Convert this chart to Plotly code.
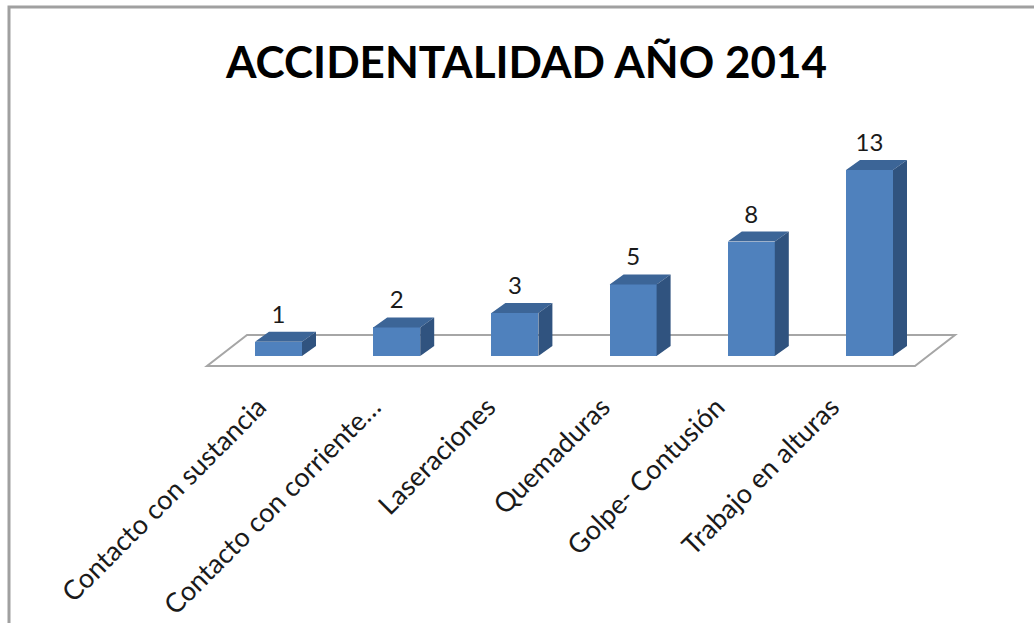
import plotly.graph_objects as go

# ---- data ----
categories = ["Contacto con sustancia", "Contacto con corriente…", "Laseraciones",
              "Quemaduras", "Golpe- Contusión", "Trabajo en alturas"]
values = [1, 2, 3, 5, 8, 13]
title_text = "ACCIDENTALIDAD AÑO 2014"

# ---- style ----
W, H = 1034, 623
FRONT = "#4F81BD"
TOP = "#3C6597"
SIDE = "#30537F"
FONT = "Lato, 'Noto Sans', sans-serif"

# axis scales (pixels per unit) and ranges
px_x = 118.2
px_y = 14.31
x0 = -278.5 / px_x
x1 = x0 + W / px_x
y0 = -(H - 356) / px_y
y1 = y0 + H / px_y

# label axis (slightly tighter spacing, as in the perspective view)
px_x2 = 114.6
x20 = -258.5 / px_x2
x21 = x20 + W / px_x2

bar_w = 47 / px_x
dx = 14 / px_x
dy = 10 / px_y

xs = list(range(len(categories)))

fig = go.Figure()

# front faces
fig.add_trace(go.Bar(x=xs, y=values, base=0, width=bar_w,
                     marker=dict(color=FRONT, line=dict(width=0)),
                     hoverinfo="skip", showlegend=False))

# top & side faces
tx, ty, sx, sy = [], [], [], []
for x, v in zip(xs, values):
    l, r = x - bar_w / 2, x + bar_w / 2
    tx += [l, r, r + dx, l + dx, l, None]
    ty += [v, v, v + dy, v + dy, v, None]
    sx += [r, r + dx, r + dx, r, r, None]
    sy += [0, dy, v + dy, v, 0, None]
fig.add_trace(go.Scatter(x=tx, y=ty, mode="lines", fill="toself", fillcolor=TOP,
                         line=dict(width=0, color=TOP), hoverinfo="skip", showlegend=False))
fig.add_trace(go.Scatter(x=sx, y=sy, mode="lines", fill="toself", fillcolor=SIDE,
                         line=dict(width=0, color=SIDE), hoverinfo="skip", showlegend=False))

# value labels
lab_off = 25 / px_y
fig.add_trace(go.Scatter(x=xs, y=[v + lab_off for v in values], mode="text",
                         text=[str(v) for v in values], textposition="middle center",
                         textfont=dict(family=FONT, size=24, color="#1a1a1a"),
                         hoverinfo="skip", showlegend=False))

# invisible trace carrying the category-label axis
fig.add_trace(go.Scatter(x=xs, y=[0] * len(xs), xaxis="x2", yaxis="y", mode="markers",
                         marker=dict(opacity=0), hoverinfo="skip", showlegend=False))

# floor (parallelogram spanning the categories)
n = len(categories)
fl_l = -71.5 / px_x
fl_r = (n - 1) + 45.5 / px_x
fl_front = -10 / px_y
fdx = 40 / px_x
fdy = 31 / px_y
floor_path = (f"M {fl_l},{fl_front} L {fl_r},{fl_front} L {fl_r + fdx},{fl_front + fdy} "
              f"L {fl_l + fdx},{fl_front + fdy} Z")
fig.add_shape(type="path", path=floor_path, xref="x", yref="y", layer="below",
              line=dict(color="#A6A6A6", width=2), fillcolor="white")

# outer chart frame
fig.add_shape(type="rect", xref="paper", yref="paper",
              x0=9 / W, x1=1.05, y0=-0.05, y1=1 - 7 / H,
              line=dict(color="#A0A0A0", width=3), fillcolor="rgba(0,0,0,0)")

fig.update_layout(
    width=W, height=H,
    margin=dict(l=0, r=0, t=0, b=0),
    paper_bgcolor="white", plot_bgcolor="white",
    title=dict(text=title_text, x=526.5 / W, xanchor="center", y=1 - 63 / H, yanchor="middle",
               font=dict(family=FONT, size=44, color="black", weight="bold")),
    xaxis=dict(range=[x0, x1], showgrid=False, zeroline=False, showline=False,
               showticklabels=False, ticks=""),
    xaxis2=dict(range=[x20, x21], overlaying="x", tickmode="array", tickvals=xs,
                ticktext=categories, tickangle=-45, showgrid=False, zeroline=False,
                showline=False, ticks="", anchor="free", position=1 - 367 / H, side="bottom",
                ticklabelstandoff=18,
                tickfont=dict(family=FONT, size=27, color="#1a1a1a")),
    yaxis=dict(range=[y0, y1], showgrid=False, zeroline=False, showline=False,
               showticklabels=False, ticks=""),
    bargap=0,
)

fig.write_html("out.html", config={"displayModeBar": False},
               post_script="document.body.style.margin='0';document.body.style.overflow='hidden';")
